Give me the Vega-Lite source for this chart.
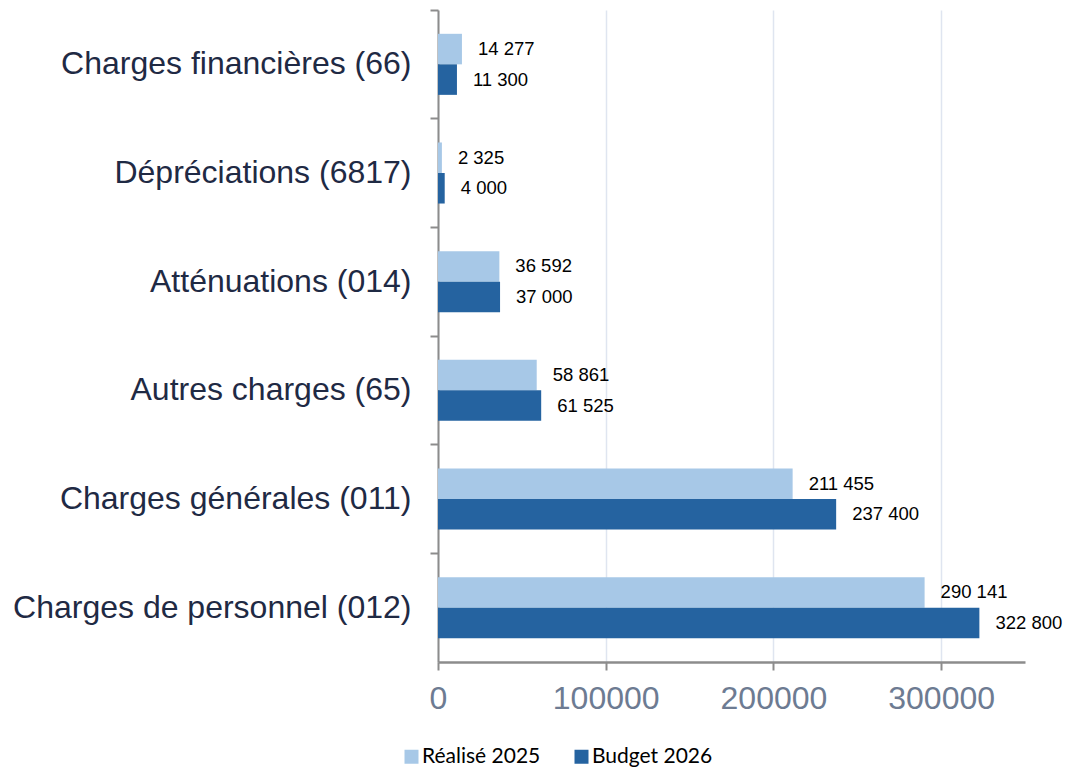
{
  "$schema": "https://vega.github.io/schema/vega-lite/v6.json",
  "autosize": "none",
  "width": 587,
  "height": 652,
  "padding": {"left": 438, "top": 10, "right": 45, "bottom": 106},
  "background": "white",
  "data": {
    "values": [
      {"cat": "Charges financières (66)", "serie": "Réalisé 2025", "val": 14277, "txt": "14 277"},
      {"cat": "Charges financières (66)", "serie": "Budget 2026", "val": 11300, "txt": "11 300"},
      {"cat": "Dépréciations (6817)", "serie": "Réalisé 2025", "val": 2325, "txt": "2 325"},
      {"cat": "Dépréciations (6817)", "serie": "Budget 2026", "val": 4000, "txt": "4 000"},
      {"cat": "Atténuations (014)", "serie": "Réalisé 2025", "val": 36592, "txt": "36 592"},
      {"cat": "Atténuations (014)", "serie": "Budget 2026", "val": 37000, "txt": "37 000"},
      {"cat": "Autres charges (65)", "serie": "Réalisé 2025", "val": 58861, "txt": "58 861"},
      {"cat": "Autres charges (65)", "serie": "Budget 2026", "val": 61525, "txt": "61 525"},
      {"cat": "Charges générales (011)", "serie": "Réalisé 2025", "val": 211455, "txt": "211 455"},
      {"cat": "Charges générales (011)", "serie": "Budget 2026", "val": 237400, "txt": "237 400"},
      {"cat": "Charges de personnel (012)", "serie": "Réalisé 2025", "val": 290141, "txt": "290 141"},
      {"cat": "Charges de personnel (012)", "serie": "Budget 2026", "val": 322800, "txt": "322 800"}
    ]
  },
  "encoding": {
    "y": {
      "field": "cat",
      "type": "nominal",
      "sort": null,
      "title": null,
      "scale": {"paddingInner": 0, "paddingOuter": 0},
      "axis": {
        "bandPosition": 0,
        "domainColor": "#8c8c8c",
        "domainWidth": 2,
        "tickColor": "#8c8c8c",
        "tickWidth": 2,
        "tickSize": 8,
        "labelFont": "Liberation Sans",
        "labelFontSize": 32,
        "labelColor": "#1f2a44",
        "labelPadding": 19,
        "labelLimit": 0
      }
    },
    "yOffset": {
      "field": "serie",
      "type": "nominal",
      "sort": ["Réalisé 2025", "Budget 2026"],
      "scale": {"paddingInner": 0, "paddingOuter": 0.78}
    },
    "x": {
      "field": "val",
      "type": "quantitative",
      "title": null,
      "scale": {"domain": [0, 350000], "nice": false},
      "axis": {
        "values": [0, 100000, 200000, 300000],
        "format": "d",
        "grid": true,
        "gridColor": "#dfe5f0",
        "gridWidth": 1.5,
        "domainColor": "#8c8c8c",
        "domainWidth": 2.5,
        "tickColor": "#8c8c8c",
        "tickWidth": 2,
        "tickSize": 8,
        "labelFlush": false,
        "labelFont": "Liberation Sans",
        "labelFontSize": 32,
        "labelColor": "#6d7b92",
        "labelPadding": 13
      }
    }
  },
  "layer": [
    {
      "mark": {"type": "bar"},
      "encoding": {
        "color": {
          "field": "serie",
          "type": "nominal",
          "sort": ["Réalisé 2025", "Budget 2026"],
          "scale": {"domain": ["Réalisé 2025", "Budget 2026"], "range": ["#a7c8e7", "#2563a0"]},
          "legend": {
            "title": null,
            "orient": "none",
            "direction": "horizontal",
            "legendX": -37,
            "legendY": 736,
            "symbolType": "square",
            "symbolSize": 196,
            "symbolStrokeWidth": 0,
            "symbolOpacity": 1,
            "labelFont": "Lato",
            "labelFontSize": 21,
            "labelColor": "#000000",
            "labelOffset": 0,
            "columnPadding": 30
          }
        }
      }
    },
    {
      "mark": {"type": "text", "align": "left", "baseline": "middle", "dx": 16, "font": "Liberation Sans", "fontSize": 18.5, "color": "#000000"},
      "encoding": {"text": {"field": "txt"}}
    }
  ],
  "config": {"view": {"stroke": null}}
}
